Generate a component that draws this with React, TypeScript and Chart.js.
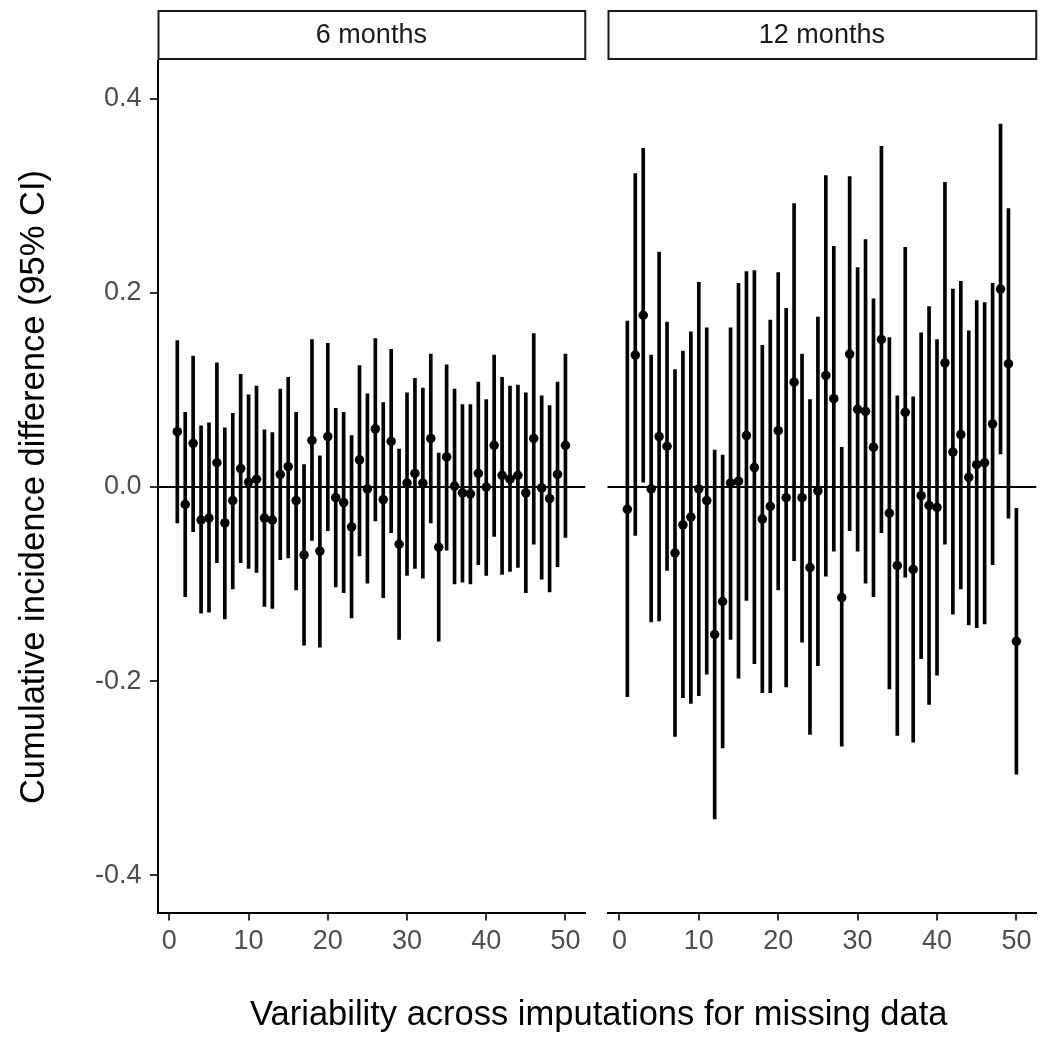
import React, { useEffect, useRef } from "react";
import { Chart, registerables } from "chart.js";

Chart.register(...registerables);

const FONT = "'Liberation Sans', Arial, Helvetica, sans-serif";

const imputation = [
  1, 2, 3, 4, 5, 6, 7, 8, 9, 10, 11, 12, 13, 14, 15, 16, 17, 18, 19, 20, 21, 22, 23, 24, 25,
  26, 27, 28, 29, 30, 31, 32, 33, 34, 35, 36, 37, 38, 39, 40, 41, 42, 43, 44, 45, 46, 47, 48, 49, 50,
];

// 6 months
const est6 = [
  0.057, -0.018, 0.045, -0.034, -0.032, 0.025, -0.037, -0.014, 0.019, 0.005,
  0.008, -0.032, -0.034, 0.013, 0.021, -0.014, -0.07, 0.048, -0.066, 0.052,
  -0.011, -0.016, -0.041, 0.028, -0.002, 0.06, -0.013, 0.047, -0.059, 0.004,
  0.014, 0.004, 0.05, -0.062, 0.031, 0.001, -0.006, -0.007, 0.014, 0.0,
  0.043, 0.012, 0.008, 0.012, -0.006, 0.05, -0.001, -0.012, 0.013, 0.043,
];
const hi6 = [
  0.151, 0.077, 0.135, 0.063, 0.066, 0.128, 0.061, 0.076, 0.116, 0.095,
  0.104, 0.059, 0.056, 0.101, 0.113, 0.077, 0.023, 0.152, 0.032, 0.148,
  0.081, 0.077, 0.053, 0.125, 0.096, 0.153, 0.087, 0.142, 0.039, 0.097,
  0.112, 0.102, 0.137, 0.035, 0.126, 0.101, 0.085, 0.085, 0.108, 0.09,
  0.136, 0.113, 0.104, 0.105, 0.097, 0.158, 0.094, 0.084, 0.108, 0.137,
];
const lo6 = [
  -0.037, -0.113, -0.046, -0.13, -0.129, -0.078, -0.136, -0.105, -0.078, -0.084,
  -0.088, -0.123, -0.125, -0.075, -0.073, -0.106, -0.163, -0.055, -0.165, -0.045,
  -0.103, -0.109, -0.135, -0.071, -0.099, -0.035, -0.114, -0.047, -0.157, -0.091,
  -0.084, -0.094, -0.037, -0.159, -0.065, -0.1, -0.098, -0.1, -0.08, -0.091,
  -0.051, -0.09, -0.087, -0.083, -0.109, -0.059, -0.095, -0.108, -0.082, -0.052,
];

// 12 months
const est12 = [
  -0.023, 0.136, 0.177, -0.002, 0.052, 0.042, -0.068, -0.039, -0.031, -0.002,
  -0.014, -0.152, -0.118, 0.004, 0.006, 0.053, 0.02, -0.033, -0.02, 0.058,
  -0.011, 0.108, -0.011, -0.083, -0.004, 0.115, 0.091, -0.114, 0.137, 0.08,
  0.078, 0.041, 0.152, -0.027, -0.081, 0.077, -0.085, -0.009, -0.019, -0.021,
  0.128, 0.036, 0.054, 0.01, 0.023, 0.025, 0.065, 0.204, 0.127, -0.159,
];
const hi12 = [
  0.171, 0.323, 0.349, 0.136, 0.242, 0.17, 0.121, 0.14, 0.16, 0.211,
  0.164, 0.038, 0.033, 0.164, 0.21, 0.222, 0.223, 0.146, 0.172, 0.221,
  0.184, 0.292, 0.137, 0.09, 0.175, 0.321, 0.248, 0.041, 0.32, 0.226,
  0.255, 0.194, 0.351, 0.154, 0.094, 0.247, 0.093, 0.159, 0.186, 0.152,
  0.314, 0.204, 0.212, 0.161, 0.192, 0.19, 0.21, 0.374, 0.287, -0.022,
];
const lo12 = [
  -0.216, -0.05, 0.005, -0.139, -0.138, -0.086, -0.257, -0.217, -0.223, -0.215,
  -0.193, -0.342, -0.269, -0.157, -0.197, -0.117, -0.182, -0.212, -0.212, -0.106,
  -0.206, -0.076, -0.16, -0.255, -0.184, -0.092, -0.066, -0.267, -0.045, -0.066,
  -0.099, -0.113, -0.047, -0.208, -0.256, -0.093, -0.263, -0.177, -0.224, -0.194,
  -0.059, -0.131, -0.105, -0.142, -0.145, -0.141, -0.08, 0.034, -0.032, -0.296,
];

const panelLabels = ["6 months", "12 months"];
const xTicks = [0, 10, 20, 30, 40, 50];
const yTicks = [-0.4, -0.2, 0.0, 0.2, 0.4];
const yTickLabels = ["-0.4", "-0.2", "0.0", "0.2", "0.4"];
const yTitle = "Cumulative incidence difference (95% CI)";
const xTitle = "Variability across imputations for missing data";

const TICK_SIZE = 27;
const TITLE_SIZE = 34.5;

const stripPlugin = {
  id: "strip",
  afterDraw(chart: any, _args: any, opts: any) {
    const { ctx, chartArea } = chart;
    const { left, right } = chartArea;
    ctx.save();
    ctx.strokeStyle = "#1A1A1A";
    ctx.lineWidth = 2;
    ctx.strokeRect(left + 1, 11, right - left - 1, 48);
    ctx.fillStyle = "#1A1A1A";
    ctx.font = `${TICK_SIZE}px ${FONT}`;
    ctx.textAlign = "center";
    ctx.textBaseline = "middle";
    ctx.fillText(opts.label, (left + right) / 2, 36);
    ctx.restore();
  },
};

const zeroLinePlugin = {
  id: "zeroLine",
  beforeDatasetsDraw(chart: any) {
    const { ctx, chartArea, scales } = chart;
    const y = scales.y.getPixelForValue(0);
    ctx.save();
    ctx.strokeStyle = "#000";
    ctx.lineWidth = 2;
    ctx.beginPath();
    ctx.moveTo(chartArea.left, y);
    ctx.lineTo(chartArea.right, y);
    ctx.stroke();
    ctx.restore();
  },
};

type PanelProps = {
  label: string;
  est: number[];
  lo: number[];
  hi: number[];
  showY: boolean;
  left: number;
  width: number;
  padLeft: number;
  padRight: number;
};

function Panel({ label, est, lo, hi, showY, left, width, padLeft, padRight }: PanelProps) {
  const ref = useRef<HTMLCanvasElement | null>(null);
  useEffect(() => {
    if (!ref.current) return;
    const tickGrid = {
      display: true,
      drawOnChartArea: false,
      drawTicks: true,
      tickLength: 7.5,
      color: "#333333",
      lineWidth: 2,
      offset: false,
    };
    const chart = new Chart(ref.current, {
      type: "bar",
      data: {
        datasets: [
          {
            type: "scatter",
            data: imputation.map((x, i) => ({ x, y: est[i] })),
            pointRadius: 4.75,
            pointHoverRadius: 4.75,
            backgroundColor: "#000",
            borderWidth: 0,
            order: 0,
          } as any,
          {
            type: "bar",
            data: imputation.map((x, i) => ({ x, y: [lo[i], hi[i]] })),
            backgroundColor: "#000",
            barThickness: 3,
            borderWidth: 0,
            grouped: false,
            order: 1,
          } as any,
        ],
      },
      options: {
        animation: false,
        responsive: false,
        events: [],
        layout: { padding: { top: 61, left: padLeft, right: padRight, bottom: 0 } },
        plugins: {
          legend: { display: false },
          tooltip: { enabled: false },
          strip: { label },
        } as any,
        scales: {
          x: {
            type: "linear",
            min: -1.5,
            max: 52.5,
            offset: false,
            afterBuildTicks: (s: any) => {
              s.ticks = xTicks.map((v) => ({ value: v }));
            },
            afterFit: (s: any) => {
              s.height = 126;
            },
            grid: tickGrid,
            border: { display: true, color: "#000", width: 2 },
            ticks: {
              font: { family: FONT, size: TICK_SIZE },
              color: "#4D4D4D",
              padding: 5,
              maxRotation: 0,
              autoSkip: false,
              callback: (v: any) => String(v),
            },
          },
          y: {
            type: "linear",
            min: -0.439,
            max: 0.439,
            display: showY,
            afterBuildTicks: (s: any) => {
              s.ticks = yTicks.map((v) => ({ value: v }));
            },
            ...(showY
              ? {
                  afterFit: (s: any) => {
                    s.width = 157.5;
                  },
                }
              : {}),
            title: {
              display: true,
              text: yTitle,
              color: "#000",
              font: { family: FONT, size: TITLE_SIZE },
              padding: { top: 14, bottom: 0 },
            },
            grid: tickGrid,
            border: { display: true, color: "#000", width: 2 },
            ticks: {
              font: { family: FONT, size: TICK_SIZE },
              color: "#4D4D4D",
              padding: 8.5,
              autoSkip: false,
              callback: (_v: any, i: number) => yTickLabels[i],
            },
          },
        },
      } as any,
      plugins: [stripPlugin, zeroLinePlugin],
    });
    return () => chart.destroy();
  }, []);
  return (
    <canvas
      ref={ref}
      width={width}
      height={1039}
      style={{ position: "absolute", left, top: 0, width, height: 1039 }}
    />
  );
}

export default function App() {
  return (
    <div
      style={{
        position: "absolute",
        left: 0,
        top: 0,
        width: 1041,
        height: 1039,
        background: "#fff",
        overflow: "hidden",
      }}
    >
      <Panel label={panelLabels[0]} est={est6} lo={lo6} hi={hi6} showY={true} left={0} width={590} padLeft={0} padRight={1.5} />
      <Panel label={panelLabels[1]} est={est12} lo={lo12} hi={hi12} showY={false} left={597} width={444} padLeft={10.5} padRight={1} />
      <div
        style={{
          position: "absolute",
          left: 157.5,
          width: 882.5,
          top: 996,
          textAlign: "center",
          fontFamily: FONT,
          fontSize: TITLE_SIZE,
          lineHeight: `${TITLE_SIZE}px`,
          color: "#000",
          whiteSpace: "nowrap",
        }}
      >
        {xTitle}
      </div>
    </div>
  );
}
